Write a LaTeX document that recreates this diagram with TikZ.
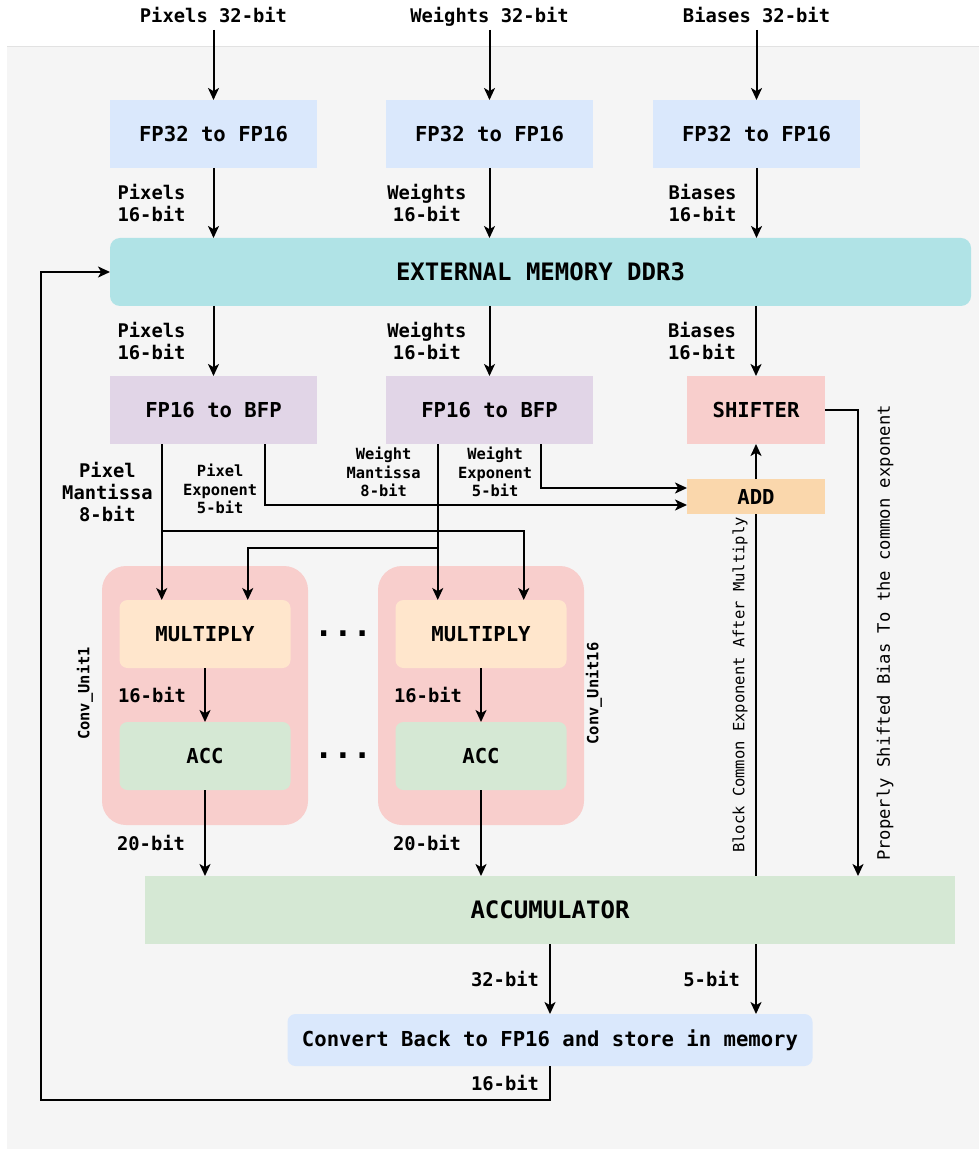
\documentclass[tikz,border=0pt]{standalone}
\usepackage{fontspec}
\setmainfont{DejaVu Sans Mono}
\usetikzlibrary{arrows.meta, positioning, calc}

\definecolor{panelgray}{HTML}{F5F5F5}
\definecolor{paneledge}{HTML}{E2E2E2}
\definecolor{convblue}{HTML}{DAE8FC}
\definecolor{memteal}{HTML}{B0E3E6}
\definecolor{bfppurple}{HTML}{E1D5E7}
\definecolor{unitred}{HTML}{F8CECC}
\definecolor{addorange}{HTML}{FAD7AC}
\definecolor{mulpeach}{HTML}{FFE6CC}
\definecolor{accgreen}{HTML}{D5E8D4}

\begin{document}
\begin{tikzpicture}[
  x=0.5pt, y=-0.5pt,
  blk/.style={rectangle, minimum width=103.5pt, minimum height=34pt, inner sep=0pt,
              outer sep=0pt, align=center, font=\fontsize{10.3}{12}\selectfont\bfseries},
  bigblk/.style={blk, font=\fontsize{12}{14}\selectfont\bfseries},
  convunit/.style={rectangle, fill=unitred, rounded corners=12pt, outer sep=0pt,
                   minimum width=103pt, minimum height=129.5pt},
  lbl/.style={inner sep=0pt, align=center, font=\fontsize{9.4}{11}\selectfont\bfseries},
  toplbl/.style={lbl, inner sep=3.5pt, text depth=0pt},
  tinylbl/.style={inner sep=0pt, align=center, font=\fontsize{7.7}{9.25}\selectfont\bfseries},
  vtext/.style={inner sep=0pt, rotate=90},
  dotmark/.style={inner sep=0pt, font=\fontsize{16}{16}\selectfont\bfseries},
  arrow/.style={-{Stealth[length=6pt, width=5.5pt, inset=1.6pt]}, line width=1pt},
  wire/.style={line width=1pt},
]

\useasboundingbox (0,0) rectangle (979,1149);
\fill[panelgray] (7,47) rectangle (979,1149);
\draw[paneledge, line width=0.5pt] (7,47) -- (979,47);

% ---- input conversion ----
\node[blk, fill=convblue] (fpa) at (213.5,134) {FP32 to FP16};
\node[blk, fill=convblue, right=34.5pt of fpa] (fpb) {FP32 to FP16};
\node[blk, fill=convblue, right=30pt of fpb] (fpc) {FP32 to FP16};

\node[toplbl, above=35pt of fpa] (inpix)  {Pixels 32-bit};
\node[toplbl, above=35pt of fpb] (inwgt)  {Weights 32-bit};
\node[toplbl, above=35pt of fpc] (inbias) {Biases 32-bit};

\node[bigblk, fill=memteal, rounded corners=5pt, minimum width=430.5pt,
      below=35pt of fpa.south west, anchor=north west] (mem) {EXTERNAL MEMORY DDR3};

% ---- BFP conversion / bias path ----
\node[blk, fill=bfppurple, below=35pt of mem.south west, anchor=north west] (bfpa) {FP16 to BFP};
\node[blk, fill=bfppurple, right=34.5pt of bfpa] (bfpb) {FP16 to BFP};
\node[blk, fill=unitred, minimum width=69pt, right=47pt of bfpb] (shift) {SHIFTER};
\node[blk, fill=addorange, minimum width=69pt, minimum height=17.5pt,
      below=17.5pt of shift] (add) {ADD};

% ---- conv units ----
\node[convunit, below=61pt of bfpa.south west, anchor=north west, xshift=-4pt] (unita) {};
\node[convunit, right=35pt of unita] (unitb) {};

\node[blk, fill=mulpeach, rounded corners=4pt, minimum width=85.5pt,
      below=17pt of unita.north] (mula) {MULTIPLY};
\node[blk, fill=accgreen, rounded corners=4pt, minimum width=85.5pt,
      below=27pt of mula] (acca) {ACC};
\node[blk, fill=mulpeach, rounded corners=4pt, minimum width=85.5pt,
      below=17pt of unitb.north] (mulb) {MULTIPLY};
\node[blk, fill=accgreen, rounded corners=4pt, minimum width=85.5pt,
      below=27pt of mulb] (accb) {ACC};

\node[tinylbl, rotate=90] (namea) at ($(unita.west)+(-17,-2)$) {Conv\_Unit1};
\node[tinylbl, rotate=90] (nameb) at ($(unitb.east)+(10,-2)$) {Conv\_Unit16};

\node[dotmark] (dotsm) at ($(mula.east)!0.5!(mulb.west)$) {...};
\node[dotmark] (dotsa) at ($(acca.east)!0.5!(accb.west)$) {...};

\node[bigblk, fill=accgreen, minimum width=405pt,
      below=25.5pt of unita.south west, anchor=north west, xshift=21.5pt] (accum) {ACCUMULATOR};
\node[blk, fill=convblue, rounded corners=4pt, minimum width=262.5pt, minimum height=26pt,
      below=35pt of accum] (conv) {Convert Back to FP16 and store in memory};

% ---- taps on the BFP outputs ----
\coordinate (pm) at ($(bfpa.south west)!0.25!(bfpa.south east)$);
\coordinate (pe) at ($(bfpa.south west)!0.75!(bfpa.south east)$);
\coordinate (wm) at ($(bfpb.south west)!0.25!(bfpb.south east)$);
\coordinate (we) at ($(bfpb.south west)!0.75!(bfpb.south east)$);

% ---- connections ----
\draw[arrow] (inpix)  -- (fpa);
\draw[arrow] (inwgt)  -- (fpb);
\draw[arrow] (inbias) -- (fpc);

\draw[arrow] (fpa) -- (fpa |- mem.north) node[lbl, midway, left=13.5pt] {Pixels\\16-bit};
\draw[arrow] (fpb) -- (fpb |- mem.north) node[lbl, midway, left=11pt] {Weights\\16-bit};
\draw[arrow] (fpc) -- (fpc |- mem.north) node[lbl, midway, left=9.5pt] {Biases\\16-bit};

\draw[arrow] (mem.south -| bfpa) -- (bfpa) node[lbl, midway, left=13.5pt] {Pixels\\16-bit};
\draw[arrow] (mem.south -| bfpb) -- (bfpb) node[lbl, midway, left=11pt] {Weights\\16-bit};
\draw[arrow] (mem.south -| shift) -- (shift) node[lbl, midway, left=9.5pt] {Biases\\16-bit};

\draw[arrow] (pm) -- (pm |- mula.north) node[lbl, pos=0.31, left=4pt] {Pixel\\Mantissa\\8-bit};
\draw[arrow] ($(pm)+(0,87)$) -| ($(mulb.north west)!0.75!(mulb.north east)$);
\draw[arrow] (wm) -- (wm |- mulb.north) node[tinylbl, pos=0.18, left=8pt] {Weight\\Mantissa\\8-bit};
\draw[arrow] ($(wm)+(0,104)$) -| ($(mula.north west)!0.75!(mula.north east)$);

\draw[arrow] (pe) |- ($(add.west)+(0,8.5)$) node[tinylbl, pos=0.37, left=3.5pt] {Pixel\\Exponent\\5-bit};
\draw[arrow] (we) |- ($(add.west)+(0,-8.5)$) node[tinylbl, pos=0.32, left=4pt] {Weight\\Exponent\\5-bit};

\draw[arrow] (add) -- (shift);

\draw[arrow] (mula) -- (acca) node[lbl, midway, left=9pt] {16-bit};
\draw[arrow] (mulb) -- (accb) node[lbl, midway, left=9pt] {16-bit};
\draw[arrow] (acca) -- (acca |- accum.north) node[lbl, pos=0.62, left=9.5pt] {20-bit};
\draw[arrow] (accb) -- (accb |- accum.north) node[lbl, pos=0.62, left=9.5pt] {20-bit};

\draw[wire] (add) -- (add |- accum.north);
\node[vtext, font=\fontsize{7.75}{9}\selectfont] (blocklbl) at (740,685)
  {Block Common Exponent After Multiply};
\draw[arrow] (shift.east) -| ($(accum.north east)+(-97,0)$);
\node[vtext, font=\fontsize{8.6}{10}\selectfont] (biaslbl) at (885,633)
  {Properly Shifted Bias To the common exponent};

\draw[arrow] (accum.south -| conv) -- (conv) node[lbl, midway, left=5pt] {32-bit};
\draw[arrow] (accum.south -| add) -- (conv.north -| add) node[lbl, midway, left=7.5pt] {5-bit};

% ---- write back ----
\draw[arrow] (conv.south) -- ++(0,34) node[lbl, midway, left=5pt] {16-bit}
  -| ($(mem.west)+(-69,0)$) -- (mem.west);

\end{tikzpicture}
\end{document}
